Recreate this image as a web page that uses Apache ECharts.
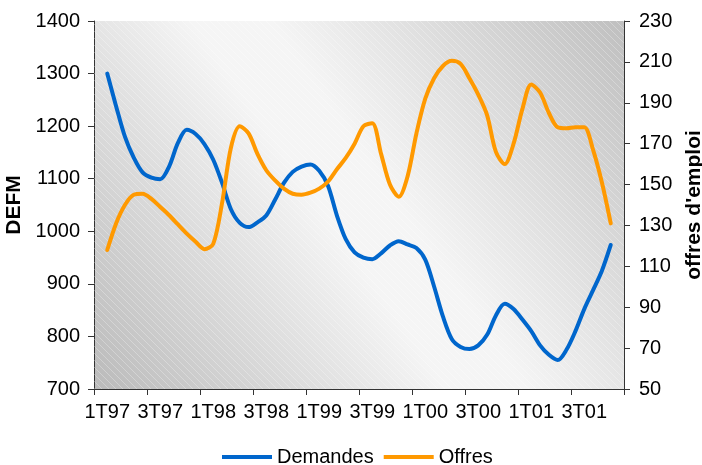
<!DOCTYPE html>
<html>
<head>
<meta charset="utf-8">
<script src="https://cdn.jsdelivr.net/npm/echarts@6/dist/echarts.min.js"></script>
<style>html,body{margin:0;padding:0;background:#fff}#c{width:702px;height:465px}</style>
</head>
<body>
<div id="c"></div>
<script>
// Monthly categories, Jan 1997 .. Dec 2001
var months = [
 '01/97','02/97','03/97','04/97','05/97','06/97','07/97','08/97','09/97','10/97','11/97','12/97',
 '01/98','02/98','03/98','04/98','05/98','06/98','07/98','08/98','09/98','10/98','11/98','12/98',
 '01/99','02/99','03/99','04/99','05/99','06/99','07/99','08/99','09/99','10/99','11/99','12/99',
 '01/00','02/00','03/00','04/00','05/00','06/00','07/00','08/00','09/00','10/00','11/00','12/00',
 '01/01','02/01','03/01','04/01','05/01','06/01','07/01','08/01','09/01','10/01','11/01','12/01'
];
// Tick labels shown every 6 months (mid-quarter)
var quarterLabels = ['1T97','3T97','1T98','3T98','1T99','3T99','1T00','3T00','1T01','3T01'];

// DEFM (left axis)
var demandes = [null,
 1300,1238,1180,1140,1112,1102,1099,1123,1168,1193,1185,
 1166,1136,1092,1042,1016,1008,1017,1030,1060,1092,1113,1123,
 1127,1115,1086,1030,985,960,950,947,958,973,981,975,
 968,946,895,838,795,780,776,783,803,840,862,852,
 832,810,783,765,755,775,810,852,888,925,974,
 null];
// Offres d'emploi (right axis)
var offres = [null,
 118,131,140,145,145.5,143,139,135,130.5,126,122,
 118.4,121,141,168,178.5,175,165,157,152,148,145.5,145,
 146,148,151.5,157.5,163,170,178.5,180,165,150,144,154,
 175,192,202,208,210.5,209,202,194,184,166,160,170,
 187,199,195,185,178,177.5,178,178,167,151,131,
 null];

var leftTicks = {min:700, max:1400, interval:100};
var rightTicks = {min:50, max:230, interval:20};

var FONT = "'Liberation Sans', Arial, sans-serif";
var chart = echarts.init(document.getElementById('c'), null, {renderer:'canvas'});

// stripe pattern
var pc = document.createElement('canvas');
pc.width = 7; pc.height = 7;
var g = pc.getContext('2d');
g.strokeStyle = 'rgba(255,255,255,0.28)';
g.lineWidth = 1;
g.beginPath();
g.moveTo(-1,-1); g.lineTo(8,8);
g.moveTo(-8,-1); g.lineTo(1,8);
g.moveTo(6,-1); g.lineTo(15,8);
g.stroke();

var GL = 94, GT = 21, GR = 78, GB = 76;
var GW = 702 - GL - GR, GH = 465 - GT - GB;

chart.setOption({
  animation:false,
  textStyle:{fontFamily:FONT},
  grid:{left:GL, top:GT, right:GR, bottom:GB, show:true, borderWidth:0, containLabel:false, outerBoundsMode:'none',
    backgroundColor:new echarts.graphic.LinearGradient(0,1,1,0,[
      {offset:0,color:'#bababa'},{offset:0.45,color:'#f5f5f5'},{offset:0.55,color:'#f5f5f5'},{offset:1,color:'#bfbfbf'}])},
  graphic:[{type:'rect', z:1, silent:true, shape:{x:GL,y:GT,width:GW,height:GH},
    style:{fill:{image:pc, repeat:'repeat'}}}],
  legend:{left:222, top:447, padding:0, itemWidth:50, itemHeight:4, itemGap:10,
    textStyle:{fontSize:20, color:'#000', fontFamily:FONT},
    data:[{name:'Demandes', icon:'rect'},{name:'Offres', icon:'rect'}]},
  xAxis:{type:'category', data:months, boundaryGap:true,
    axisLine:{lineStyle:{color:'#333', width:1}},
    axisTick:{show:true, length:6, interval:function(i){return i%6===0;}, lineStyle:{color:'#333'}},
    axisLabel:{interval:function(i){return i%6===1;}, margin:13, fontSize:20, color:'#000', fontFamily:FONT,
      formatter:function(v,i){return quarterLabels[(i-1)/6] || '';}},
    splitLine:{show:false}},
  yAxis:[
    {type:'value', min:leftTicks.min, max:leftTicks.max, interval:leftTicks.interval, position:'left',
     name:'DEFM', nameLocation:'middle', nameRotate:90, nameGap:64,
     nameTextStyle:{fontSize:21, fontWeight:'bold', color:'#000', fontFamily:FONT},
     axisLine:{show:true, lineStyle:{color:'#333'}}, axisTick:{show:true, length:6, lineStyle:{color:'#333'}},
     axisLabel:{margin:14, fontSize:20, color:'#000', fontFamily:FONT, formatter:function(v){return String(v);}}, splitLine:{show:false}},
    {type:'value', min:rightTicks.min, max:rightTicks.max, interval:rightTicks.interval, position:'right',
     name:"offres d'emploi", nameLocation:'middle', nameRotate:90, nameGap:58,
     nameTextStyle:{fontSize:21, fontWeight:'bold', color:'#000', fontFamily:FONT},
     axisLine:{show:true, lineStyle:{color:'#333'}}, axisTick:{show:true, length:6, lineStyle:{color:'#333'}},
     axisLabel:{margin:15, fontSize:20, color:'#000', fontFamily:FONT, formatter:function(v){return String(v);}}, splitLine:{show:false}}
  ],
  series:[
    {name:'Demandes', type:'line', yAxisIndex:0, data:demandes, showSymbol:false, symbol:'none', smooth:0.3,
     lineStyle:{color:'#0066cc', width:4, cap:'round', join:'round'}, itemStyle:{color:'#0066cc'}, z:3},
    {name:'Offres', type:'line', yAxisIndex:1, data:offres, showSymbol:false, symbol:'none', smooth:0.3,
     lineStyle:{color:'#ff9900', width:4, cap:'round', join:'round'}, itemStyle:{color:'#ff9900'}, z:3}
  ]
});
</script>
</body>
</html>
